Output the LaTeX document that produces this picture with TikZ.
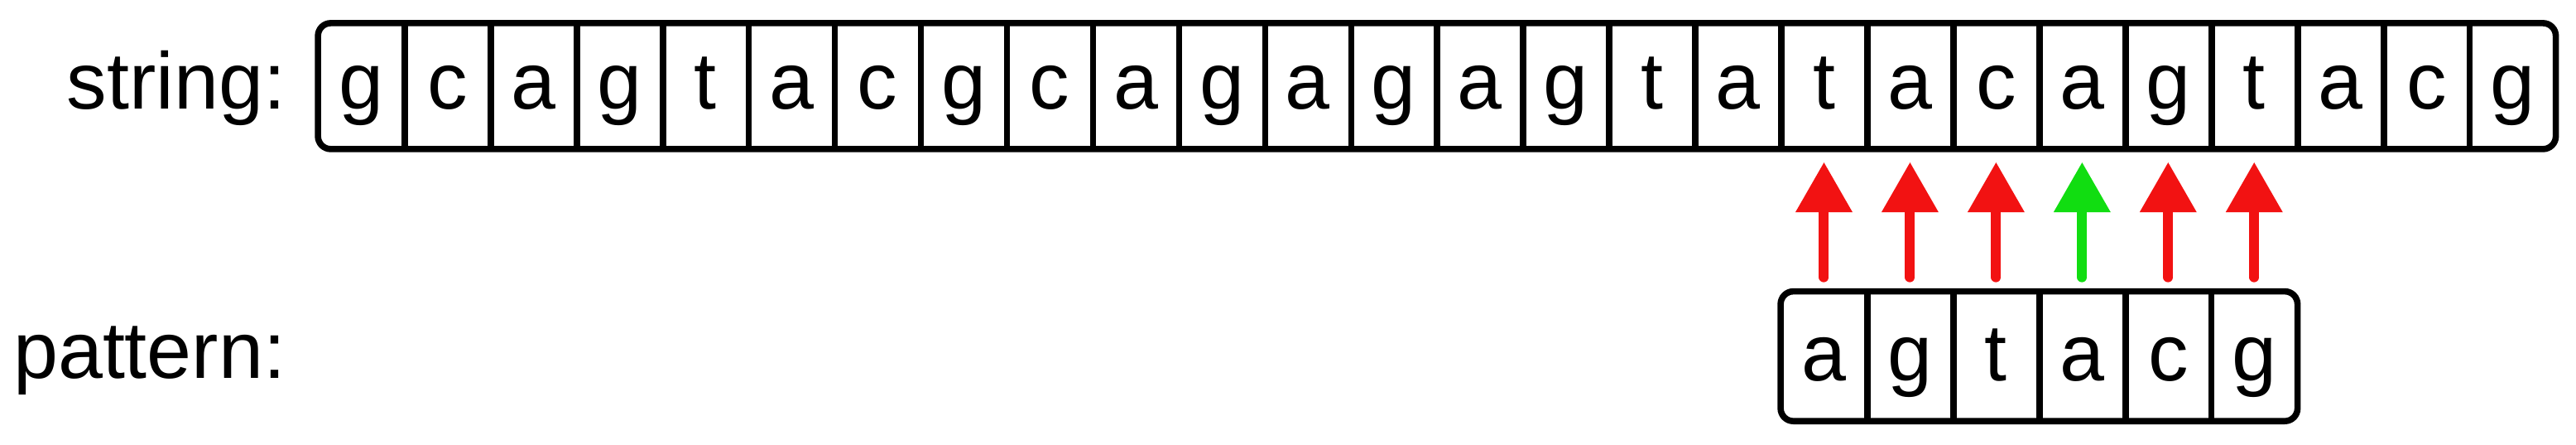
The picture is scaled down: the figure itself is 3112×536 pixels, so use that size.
\documentclass[tikz,border=0pt]{standalone}
\usepackage{fontspec}
\setmainfont{Liberation Sans}
\usetikzlibrary{arrows.meta}
\definecolor{missred}{RGB}{242,18,18}
\definecolor{hitgreen}{RGB}{17,221,17}
\tikzset{
  frame/.style={line width=3.8pt, rounded corners=7.75pt},
  divider/.style={line width=3.8pt},
  cellbase/.style={inner sep=0pt, minimum width=51.975pt,
    font=\fontsize{48.5}{50}\selectfont, text depth=2.4pt},
  scell/.style={cellbase, minimum height=75.6pt, text height=30pt},
  pcell/.style={cellbase, minimum height=77.9pt, text height=31.8pt},
  lbl/.style={inner sep=0pt, anchor=base east, font=\fontsize{48.5}{50}\selectfont},
  cmp/.style={line width=6pt, line cap=round,
    -{Triangle[width=34.5pt,length=30pt,line width=0pt]},
    shorten <=8.5pt, shorten >=8.1pt},
  miss/.style={cmp, draw=missred, fill=missred},
  hit/.style={cmp, draw=hitgreen, fill=hitgreen}
}
\begin{document}
\begin{tikzpicture}[x=0.5pt,y=-0.5pt]
\useasboundingbox (0,0) rectangle (3112,536);
% labels
\node[lbl] (lstr) at (345.5,131.7) {string:};
\node[lbl] (lpat) at (345.5,456) {pattern:};
% string cells
\foreach \ch [count=\n from 0] in {g,c,a,g,t,a,c,g,c,a,g,a,g,a,g,t,a,t,a,c,a,g,t,a,c,g}
  \node[scell] (s\n) at ({384.5+(\n+0.5)*103.95},103.9) {\ch};
\draw[frame] (s0.north west) rectangle (s25.south east);
\foreach \n in {0,...,24}
  \draw[divider] (s\n.north east) -- (s\n.south east);
% pattern cells
\foreach \ch [count=\n from 0] in {a,g,t,a,c,g}
  \node[pcell] (p\n) at ({2151.5+(\n+0.5)*103.95},429.9) {\ch};
\draw[frame] (p0.north west) rectangle (p5.south east);
\foreach \n in {0,...,4}
  \draw[divider] (p\n.north east) -- (p\n.south east);
% comparisons
\draw[miss] (p0.north) -- (p0.north |- s17.south);
\draw[miss] (p1.north) -- (p1.north |- s18.south);
\draw[miss] (p2.north) -- (p2.north |- s19.south);
\draw[hit]  (p3.north) -- (p3.north |- s20.south);
\draw[miss] (p4.north) -- (p4.north |- s21.south);
\draw[miss] (p5.north) -- (p5.north |- s22.south);
\end{tikzpicture}
\end{document}
